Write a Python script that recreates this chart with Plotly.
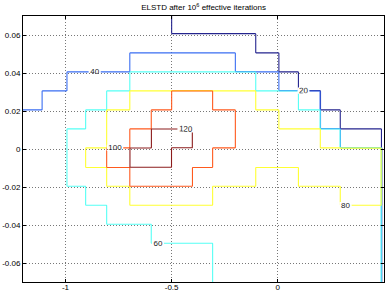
import numpy as np
import plotly.graph_objects as go

# Cell edges of the piecewise-constant value function (position x velocity)
x_edges = [-1.2, -1.11, -0.993, -0.905, -0.806, -0.697, -0.596, -0.5, -0.402,
           -0.307, -0.2, -0.104, 0.005, 0.097, 0.2, 0.294, 0.39, 0.488, 0.5]
y_edges = [-0.07, -0.0597, -0.0496, -0.0396, -0.0296, -0.0196, -0.0097, 0.0006,
           0.0106, 0.0206, 0.0306, 0.0406, 0.0506, 0.0607, 0.07]

# Cell values, bottom row first (rows = velocity bands, cols = position bands)
Z = [
    [50, 50, 50, 50, 50, 50, 50, 50, 50, 70, 70, 70, 70, 70, 70, 70, 70, 10],
    [50, 50, 50, 50, 50, 50, 50, 50, 50, 70, 70, 70, 70, 70, 70, 70, 70, 10],
    [50, 50, 50, 50, 50, 50, 70, 70, 70, 70, 70, 70, 70, 70, 70, 70, 70, 10],
    [50, 50, 50, 50, 70, 70, 70, 70, 70, 70, 70, 70, 70, 70, 70, 70, 70, 10],
    [50, 50, 50, 70, 70, 90, 90, 90, 90, 70, 70, 70, 70, 70, 70, 90, 90, 10],
    [50, 50, 70, 70, 90, 110, 110, 110, 90, 90, 90, 70, 70, 90, 90, 90, 90, 10],
    [50, 50, 70, 90, 110, 125, 125, 110, 110, 90, 90, 90, 90, 90, 90, 90, 90, 10],
    [50, 50, 70, 70, 90, 110, 125, 125, 110, 110, 90, 90, 90, 90, 70, 30, 30, 10],
    [50, 50, 50, 70, 90, 90, 110, 110, 110, 110, 90, 90, 70, 70, 30, 10, 10, 10],
    [30, 50, 50, 50, 70, 90, 90, 110, 110, 90, 90, 70, 70, 50, 10, 10, 10, 10],
    [30, 30, 50, 50, 50, 70, 70, 70, 70, 70, 70, 50, 30, 10, 10, 10, 10, 10],
    [30, 30, 30, 30, 30, 50, 50, 50, 50, 50, 30, 30, 10, 10, 10, 10, 10, 10],
    [30, 30, 30, 30, 30, 30, 30, 30, 30, 30, 30, 10, 10, 10, 10, 10, 10, 10],
    [30, 30, 30, 30, 30, 30, 30, 10, 10, 10, 10, 10, 10, 10, 10, 10, 10, 10],
]

levels = [20, 40, 60, 80, 100, 120]
level_colors = ["#24248e", "#3a6ef2", "#55fff5", "#ffff33", "#ff5a1e", "#8c1c1c"]

x_ticks = [-1, -0.5, 0, 0.5]
x_ticktext = ["-1", "-0.5", "0", "0.5"]
y_ticks = [-0.06, -0.04, -0.02, 0, 0.02, 0.04, 0.06]
y_ticktext = ["-0.06", "-0.04", "-0.02", "0", "0.02", "0.04", "0.06"]


def nodes(edges, eps):
    out = []
    n = len(edges) - 1
    for i in range(n):
        lo = edges[i] if i == 0 else edges[i] + eps
        hi = edges[i + 1] if i == n - 1 else edges[i + 1] - eps
        out += [lo, hi]
    return out


xn = nodes(x_edges, 0.002)
yn = nodes(y_edges, 0.0002)
Zn = np.repeat(np.repeat(np.array(Z, dtype=float), 2, axis=0), 2, axis=1)

colorscale = [[(lv - levels[0]) / (levels[-1] - levels[0]), c]
              for lv, c in zip(levels, level_colors)]

fig = go.Figure(go.Contour(
    x=xn, y=yn, z=Zn,
    autocontour=False,
    contours=dict(start=20, end=120, size=20, coloring="lines",
                  showlabels=True,
                  labelfont=dict(size=8, color="#222", family="Liberation Sans")),
    colorscale=colorscale, zmin=20, zmax=120, zauto=False,
    line=dict(width=1.1, smoothing=0),
    showscale=False, hoverinfo="skip",
))

axis_common = dict(
    showline=True, linecolor="black", linewidth=1, mirror="ticks",
    ticks="inside", ticklen=3, tickcolor="black",
    showgrid=True, gridcolor="#777", griddash="1px,2px", gridwidth=1,
    zeroline=False, automargin=False,
    tickfont=dict(size=8, color="black", family="Liberation Sans"),
)

fig.update_xaxes(range=[-1.2, 0.5], tickvals=x_ticks, ticktext=x_ticktext,
                 ticklabelstandoff=-3, **axis_common)
fig.update_yaxes(range=[-0.07, 0.07], tickvals=y_ticks, ticktext=y_ticktext,
                 **axis_common)

fig.update_layout(
    width=390, height=293,
    margin=dict(l=23, r=6, t=16, b=11),
    paper_bgcolor="white", plot_bgcolor="white",
    title=dict(text="ELSTD after 10<sup>6</sup> effective iterations",
               x=0.522, xanchor="center", y=0.975, yanchor="middle",
               yref="container",
               font=dict(size=8, color="black", family="Liberation Sans")),
    showlegend=False,
)

fig.write_html("out.html",
               config={"displayModeBar": False, "staticPlot": True},
               post_script="document.body.style.margin='0px';document.body.style.overflow='hidden';")
